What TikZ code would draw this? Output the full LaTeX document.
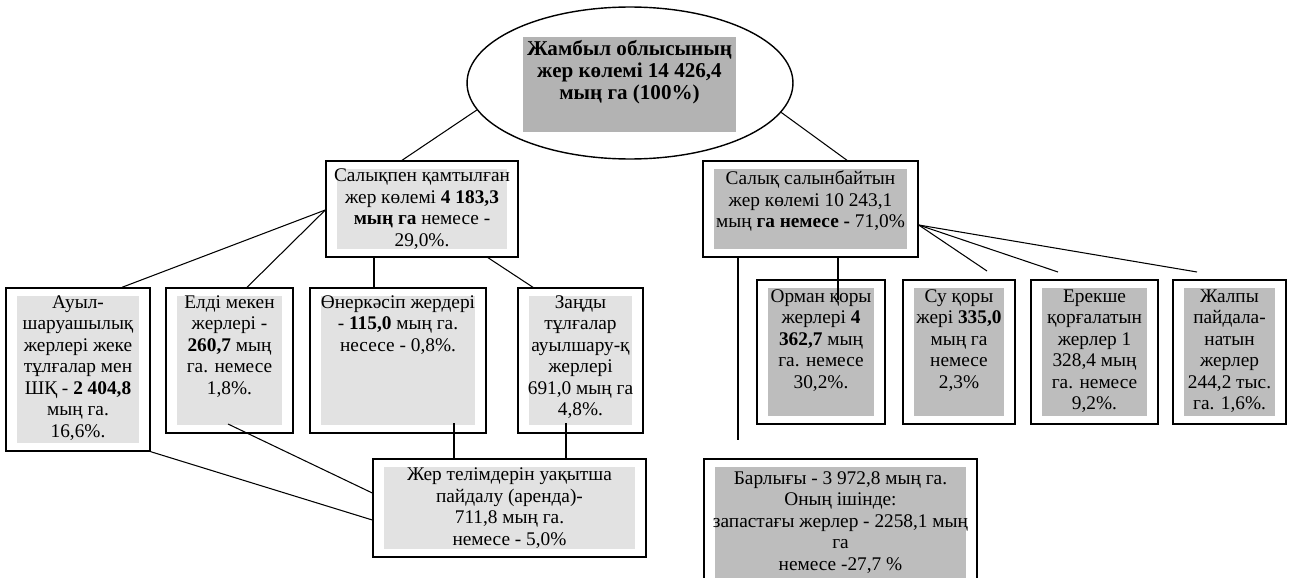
\documentclass[tikz,border=0pt]{standalone}
\usepackage{fontspec}
\setmainfont{Liberation Serif}
\usetikzlibrary{positioning,shapes.geometric}

\definecolor{lightfill}{HTML}{E2E2E2}
\definecolor{darkfill}{HTML}{BDBDBD}
\definecolor{titlefill}{HTML}{B3B3B3}

\begin{document}
\begin{tikzpicture}[x=0.02cm, y=-0.02cm,
    frame/.style={draw, line width=0.8pt, inner sep=0pt, fill=white,
      path picture={\fill[#1] ([shift={(0.22cm,0.16cm)}]path picture bounding box.south west)
        rectangle ([shift={(-0.22cm,-0.16cm)}]path picture bounding box.north east);}},
    txt/.style={align=center, inner sep=0pt, font=\fontsize{11}{12.2}\selectfont},
    link/.style={line width=0.6pt},
  ]
  \useasboundingbox (0,0) rectangle (1292,578);
  \clip (0,0) rectangle (1292,578);

  % Top: total area
  \node[ellipse, draw, line width=0.8pt, inner sep=0pt, minimum width=6.52cm, minimum height=3.04cm] (ell) at (630,83) {};
  \node[fill=titlefill, inner sep=0pt, minimum width=4.26cm, minimum height=1.9cm] (title) at (629.5,84.5) {};
  \node[align=center, inner sep=0pt, font=\bfseries\fontsize{12}{12.4}\selectfont] (titletext) at (629.5,72)
    {Жамбыл облысының\\жер көлемі 14 426,4\\мың га (100\%)};

  % Level 2
  \node[frame=lightfill, txt, minimum width=3.84cm, minimum height=1.92cm] (lmid) at (422,209)
    {Салықпен қамтылған\\жер көлемі \textbf{4 183,3}\\\textbf{мың га} немесе -\\29,0\%.};
  \node[frame=darkfill, minimum width=4.3cm, minimum height=1.92cm] (rmid) at (810.5,209) {};
  \node[txt] (rmidtext) at (810.5,201)
    {Салық салынбайтын\\жер көлемі 10 243,1\\мың \textbf{га немесе -} 71,0\%};

  % Level 3, left
  \node[frame=lightfill, minimum width=2.88cm, minimum height=3.26cm] (auyl) at (78,369.5) {};
  \node[frame=lightfill, minimum width=2.54cm, minimum height=2.9cm] (eldi) at (229.5,360.5) {};
  \node[frame=lightfill, minimum width=3.52cm, minimum height=2.9cm] (onerk) at (398,360.5) {};
  \node[frame=lightfill, minimum width=2.5cm, minimum height=2.9cm] (zandy) at (580.5,360.5) {};

  \node[txt, below=0.16cm of auyl.north] (auyltext)
    {Ауыл-\\шаруашылық\\жерлері жеке\\тұлғалар мен\\ШҚ - \textbf{2 404,8}\\мың га.\\16,6\%.};
  \node[txt, below=0.16cm of eldi.north] (elditext)
    {Елді мекен\\жерлері -\\\textbf{260,7} мың\\га. немесе\\1,8\%.};
  \node[txt, below=0.16cm of onerk.north] (onerktext)
    {Өнеркәсіп жердері\\- \textbf{115,0} мың га.\\несесе - 0,8\%.};
  \node[txt, below=0.16cm of zandy.north] (zandytext)
    {Заңды\\тұлғалар\\ауылшару-қ\\жерлері\\691,0 мың га\\4,8\%.};

  % Level 3, right
  \node[frame=darkfill, minimum width=2.56cm, minimum height=2.88cm] (orman) at (821,352) {};
  \node[frame=darkfill, minimum width=2.24cm, minimum height=2.88cm] (su) at (959,352) {};
  \node[frame=darkfill, minimum width=2.54cm, minimum height=2.88cm] (ereks) at (1094.5,352) {};
  \node[frame=darkfill, minimum width=2.26cm, minimum height=2.88cm] (zhalpy) at (1229.5,352) {};

  \node[txt, below=0.2cm of orman.north] (ormantext)
    {Орман қоры\\жерлері \textbf{4}\\\textbf{362,7} мың\\га. немесе\\30,2\%.};
  \node[txt, below=0.2cm of su.north] (sutext)
    {Су қоры\\жері \textbf{335,0}\\мың га\\немесе\\2,3\%};
  \node[txt, below=0.2cm of ereks.north] (ereksetext)
    {Ерекше\\қорғалатын\\жерлер 1\\328,4 мың\\га. немесе\\9,2\%.};
  \node[txt, below=0.2cm of zhalpy.north] (zhalpytext)
    {Жалпы\\пайдала-\\натын\\жерлер\\244,2 тыс.\\га. 1,6\%.};

  % Level 4
  \node[frame=lightfill, txt, minimum width=5.46cm, minimum height=1.96cm] (arenda) at (509.5,508)
    {Жер телімдерін уақытша\\пайдалу (аренда)-\\711,8 мың га.\\немесе - 5,0\%};
  \node[frame=darkfill, minimum width=5.46cm, minimum height=2.84cm] (barl) at (840.5,530) {};
  \node[txt, below=0.26cm of barl.north] (barltext)
    {Барлығы - 3 972,8 мың га.\\Оның ішінде:\\запастағы жерлер - 2258,1 мың\\га\\немесе -27,7 \%};

  % free ends
  \coordinate (eldi-out) at (228,424);
  \coordinate (onerk-out) at (454,423);
  \coordinate (zandy-out) at (566,423);
  \coordinate (orman-in) at (838,300);
  \coordinate (rmid-down) at (738,440);
  \coordinate (su-in) at (987,271);
  \coordinate (ereks-in) at (1058,272);
  \coordinate (zhalpy-in) at (1197,272);

  % connectors
  \draw[link] (ell.190) -- (402,0 |- lmid.north);
  \draw[link] (ell.-11) -- (847,0 |- rmid.north);
  \draw[link] (lmid.west |- 0,210) -- (122,0 |- auyl.north);
  \draw[link] (lmid.west |- 0,210) -- (247,0 |- eldi.north);
  \draw[link] (374,0 |- lmid.south) -- (374,0 |- onerk.north);
  \draw[link] (488,0 |- lmid.south) -- (533,0 |- zandy.north);
  \draw[link] (eldi-out) -- (arenda.west |- 0,493);
  \draw[link] (auyl.south east) -- (arenda.west |- 0,520);
  \draw[link] (onerk-out) -- (onerk-out |- arenda.north);
  \draw[link] (zandy-out) -- (zandy-out |- arenda.north);
  \draw[link] (738,0 |- rmid.south) -- (rmid-down);
  \draw[link] (orman-in |- rmid.south) -- (orman-in);
  \draw[link] (rmid.east |- 0,225) -- (su-in);
  \draw[link] (rmid.east |- 0,225) -- (ereks-in);
  \draw[link] (rmid.east |- 0,225) -- (zhalpy-in);

\end{tikzpicture}
\end{document}
